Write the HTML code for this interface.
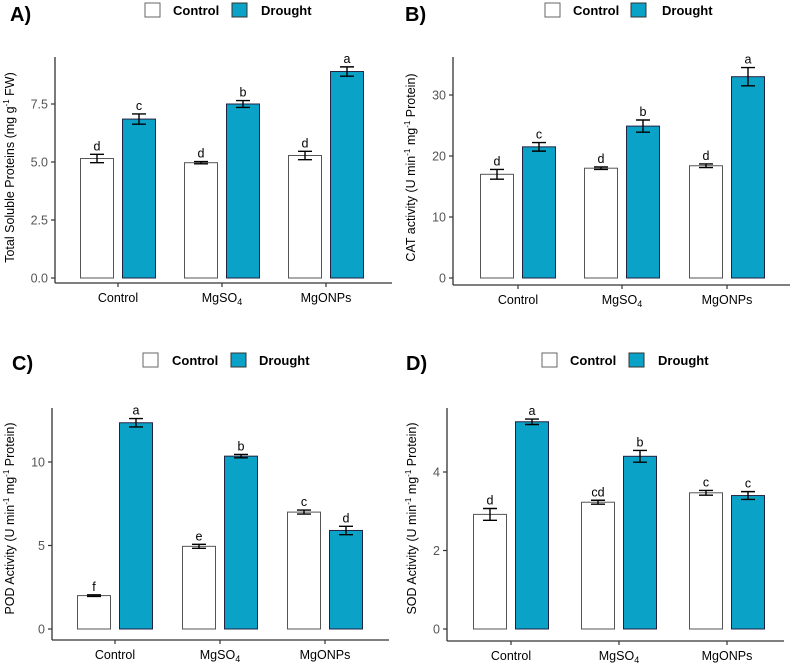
<!DOCTYPE html>
<html><head><meta charset="utf-8"><style>
html,body{margin:0;padding:0;background:#fff;}
svg{display:block;font-family:"Liberation Sans",Arial,sans-serif;}
</style></head><body>
<svg id="fig" width="793" height="665" viewBox="0 0 793 665"></svg>
<script>
const categories = ["Control", "MgSO4", "MgONPs"];
const seriesNames = ["Control", "Drought"];
// Panel A: Total soluble proteins
const aControl = [5.15, 4.97, 5.28];
const aControlErr = [0.18, 0.05, 0.18];
const aDrought = [6.85, 7.5, 8.9];
const aDroughtErr = [0.22, 0.15, 0.2];
const aControlLetters = ["d", "d", "d"];
const aDroughtLetters = ["c", "b", "a"];
const aTicks = [0, 2.5, 5, 7.5];
const aTickLabels = ["0.0", "2.5", "5.0", "7.5"];
// Panel B: CAT
const bControl = [17, 18, 18.4];
const bControlErr = [0.8, 0.2, 0.3];
const bDrought = [21.5, 24.9, 33];
const bDroughtErr = [0.7, 1.0, 1.5];
const bControlLetters = ["d", "d", "d"];
const bDroughtLetters = ["c", "b", "a"];
const bTicks = [0, 10, 20, 30];
const bTickLabels = ["0", "10", "20", "30"];
// Panel C: POD
const cControl = [2.0, 4.95, 7.0];
const cControlErr = [0.05, 0.12, 0.12];
const cDrought = [12.35, 10.35, 5.9];
const cDroughtErr = [0.25, 0.1, 0.25];
const cControlLetters = ["f", "e", "c"];
const cDroughtLetters = ["a", "b", "d"];
const cTicks = [0, 5, 10];
const cTickLabels = ["0", "5", "10"];
// Panel D: SOD
const dControl = [2.92, 3.23, 3.47];
const dControlErr = [0.15, 0.05, 0.06];
const dDrought = [5.28, 4.4, 3.4];
const dDroughtErr = [0.07, 0.15, 0.1];
const dControlLetters = ["d", "cd", "c"];
const dDroughtLetters = ["a", "b", "c"];
const dTicks = [0, 2, 4];
const dTickLabels = ["0", "2", "4"];

const NS = "http://www.w3.org/2000/svg";
const svg = document.getElementById("fig");
function mk(tag, attrs, parent) {
  const e = document.createElementNS(NS, tag);
  for (const k in attrs) e.setAttribute(k, attrs[k]);
  (parent || svg).appendChild(e);
  return e;
}
const BLUE = "#0aa3c7";

function panel(cfg) {
  const g = mk("g", {});
  
  
  // y scale: value -> pixel
  const y = v => cfg.y0 - v * cfg.ppu;
  const x = i => cfg.cx[i];
  // panel letter
  const pl = mk("text", {x: cfg.lx, y: cfg.ly, "font-size": 20, "font-weight": "bold", fill: "#000"}, g);
  pl.textContent = cfg.label;
  
  
  // legend
  const lg = mk("g", {}, g);
  
  
  const r1 = mk("rect", {x: cfg.leg[0], y: cfg.legY, width: 15, height: 14, fill: "#fff", stroke: "#666", "stroke-width": 1}, lg);
  
  
  const t1 = mk("text", {x: cfg.leg[1], y: cfg.legY + 12, "font-size": 13, "font-weight": "bold"}, lg);
  t1.textContent = seriesNames[0];
  
  
  const r2 = mk("rect", {x: cfg.leg[2], y: cfg.legY, width: 15, height: 14, fill: BLUE, stroke: "#333", "stroke-width": 1}, lg);
  
  
  const t2 = mk("text", {x: cfg.leg[3], y: cfg.legY + 12, "font-size": 13, "font-weight": "bold"}, lg);
  t2.textContent = seriesNames[1];
  
  
  // axes
  const ya = mk("line", {x1: cfg.ax, y1: cfg.top, x2: cfg.ax, y2: cfg.xay, stroke: "#333", "stroke-width": 1.3}, g);
  
  
  const xa = mk("line", {x1: cfg.ax, y1: cfg.xay, x2: cfg.ax + 337, y2: cfg.xay, stroke: "#333", "stroke-width": 1.3}, g);
  
  
  cfg.ticks.forEach((t, i) => {
    const ty = y(t);
    const tk = mk("line", {x1: cfg.ax - 4, y1: ty, x2: cfg.ax, y2: ty, stroke: "#333", "stroke-width": 1.2}, g);
    
    
    const tl = mk("text", {x: cfg.ax - 7, y: ty + 4.5, "font-size": 12.5, fill: "#555", "text-anchor": "end"}, g);
    tl.textContent = cfg.tickLabels[i];
    
    
  });
  categories.forEach((c, i) => {
    const tk = mk("line", {x1: x(i), y1: cfg.xay, x2: x(i), y2: cfg.xay + 4, stroke: "#333", "stroke-width": 1.2}, g);
    
    
    const tl = mk("text", {x: x(i), y: cfg.xay + 19, "font-size": 12.5, fill: "#000", "text-anchor": "middle"}, g);
    
    
    if (c === "MgSO4") {
      tl.appendChild(document.createTextNode("MgSO"));
      const s = mk("tspan", {"font-size": 9, dy: 3}, tl);
      s.textContent = "4";
    } else tl.textContent = c;
  });
  // y title
  const yt = mk("text", {transform: `translate(${cfg.tx},${(cfg.top + cfg.y0) / 2}) rotate(-90)`, "font-size": 12.5, "text-anchor": "middle", fill: "#000"}, g);
  
  
  cfg.title.forEach(p => {
    const s = mk("tspan", p[1] ? {"font-size": 8, dy: -5} : {dy: p[2] ? 5 : 0}, yt);
    s.textContent = p[0];
  });
  // bars
  const W = 33;
  [[cfg.ctrl, cfg.ctrlErr, cfg.ctrlL, -21, "#fff", "control"], [cfg.dr, cfg.drErr, cfg.drL, 21, BLUE, "drought"]].forEach(s => {
    s[0].forEach((v, i) => {
      const bx = x(i) + s[3] - W / 2;
      const b = mk("rect", {x: bx, y: y(v), width: W, height: y(0) - y(v), fill: s[4], stroke: s[4] === "#fff" ? "#555" : "#224", "stroke-width": 1}, g);
      
      
      const hi = y(v + s[1][i]), lo = y(v - s[1][i]), cx = x(i) + s[3];
      const eb = mk("path", {d: `M${cx - 7},${hi}H${cx + 7}M${cx},${hi}V${lo}M${cx - 7},${lo}H${cx + 7}`, stroke: "#000", "stroke-width": 1.4, fill: "none"}, g);
      
      
      const lt = mk("text", {x: cx, y: hi - 4, "font-size": 12.5, "text-anchor": "middle", fill: "#000"}, g);
      lt.textContent = s[2][i];
      
      
    });
  });
}

panel({name: "panel-a-total-soluble-proteins", label: "A)", lx: 10, ly: 21, legY: 3, leg: [145, 173, 232, 261],
  ax: 55, top: 57, y0: 278, xay: 283, ppu: 23.2, cx: [118, 222, 326], tx: 14,
  ticks: aTicks, tickLabels: aTickLabels, ctrl: aControl, ctrlErr: aControlErr, dr: aDrought, drErr: aDroughtErr,
  ctrlL: aControlLetters, drL: aDroughtLetters,
  title: [["Total Soluble Proteins (mg g"], ["-1", 1], [" FW)", 0, 1]]});
panel({name: "panel-b-cat-activity", label: "B)", lx: 405, ly: 21, legY: 3, leg: [545, 573, 631, 662],
  ax: 453, top: 57, y0: 278, xay: 285, ppu: 6.1, cx: [518, 622, 727], tx: 415,
  ticks: bTicks, tickLabels: bTickLabels, ctrl: bControl, ctrlErr: bControlErr, dr: bDrought, drErr: bDroughtErr,
  ctrlL: bControlLetters, drL: bDroughtLetters,
  title: [["CAT activity (U min"], ["-1", 1], [" mg", 0, 1], ["-1", 1], [" Protein)", 0, 1]]});
panel({name: "panel-c-pod-activity", label: "C)", lx: 12, ly: 370, legY: 353, leg: [143, 172, 231, 259],
  ax: 52, top: 408, y0: 629, xay: 640, ppu: 16.7, cx: [115, 220, 325], tx: 14,
  ticks: cTicks, tickLabels: cTickLabels, ctrl: cControl, ctrlErr: cControlErr, dr: cDrought, drErr: cDroughtErr,
  ctrlL: cControlLetters, drL: cDroughtLetters,
  title: [["POD Activity (U min"], ["-1", 1], [" mg", 0, 1], ["-1", 1], [" Protein)", 0, 1]]});
panel({name: "panel-d-sod-activity", label: "D)", lx: 406, ly: 370, legY: 353, leg: [542, 570, 629, 658],
  ax: 447, top: 408, y0: 629, xay: 641, ppu: 39.25, cx: [511, 619, 727], tx: 416,
  ticks: dTicks, tickLabels: dTickLabels, ctrl: dControl, ctrlErr: dControlErr, dr: dDrought, drErr: dDroughtErr,
  ctrlL: dControlLetters, drL: dDroughtLetters,
  title: [["SOD Activity (U min"], ["-1", 1], [" mg", 0, 1], ["-1", 1], [" Protein)", 0, 1]]});
</script>
</body></html>
